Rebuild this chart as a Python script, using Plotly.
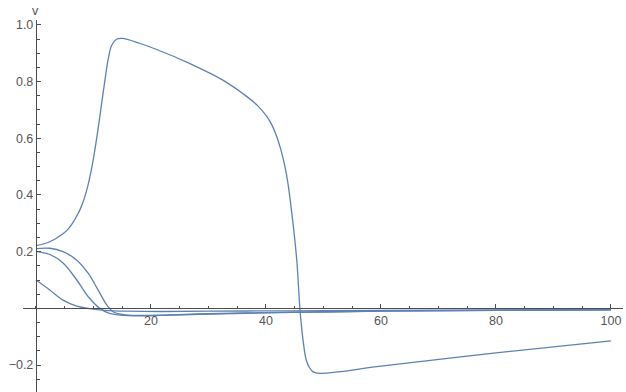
import plotly.graph_objects as go

# Membrane potential v(t) for four starting values
t_fire = [0, 2.4, 4.7, 5.7, 6.5, 7.2, 7.7, 8.5, 9.0, 9.4, 9.8, 10.25, 10.85, 11.4, 12.0,
          12.55, 13.15, 14.0, 15.0, 18.0, 21.0, 26.8, 32.5, 36.8, 38.5, 40.1, 41.0, 41.8,
          42.5, 43.0, 43.5, 43.85, 44.4, 45.0, 45.4, 45.9, 46.45, 47.0, 47.6, 48.2, 49.4,
          60, 80, 100]
v_fire = [0.221, 0.235, 0.263, 0.282, 0.305, 0.330, 0.350, 0.394, 0.430, 0.466, 0.507,
          0.560, 0.640, 0.720, 0.806, 0.878, 0.927, 0.949, 0.952, 0.935, 0.913, 0.863,
          0.805, 0.745, 0.716, 0.678, 0.648, 0.610, 0.566, 0.527, 0.480, 0.437, 0.352,
          0.245, 0.160, 0.0, -0.112, -0.182, -0.210, -0.224, -0.229, -0.204, -0.157, -0.115]

t_sub1 = [0, 2.4, 4.7, 7.1, 9.1, 10.8, 12.3, 13.4, 15.2, 18.0, 22, 30, 40, 50, 60, 80, 100]
v_sub1 = [0.211, 0.212, 0.200, 0.170, 0.123, 0.065, 0.012, -0.012, -0.022, -0.025,
          -0.024, -0.019, -0.015, -0.012, -0.010, -0.007, -0.005]

t_sub2 = [0, 2.4, 4.7, 7.1, 9.1, 11.1, 12.8, 15.2, 18.0, 22, 30, 40, 50, 60, 80, 100]
v_sub2 = [0.201, 0.190, 0.160, 0.100, 0.041, 0.0, -0.018, -0.025, -0.026, -0.025,
          -0.020, -0.016, -0.013, -0.010, -0.007, -0.005]

t_sub3 = [0, 2.4, 4.7, 7.1, 9.4, 12.0, 16.0, 22, 30, 40, 50, 70, 100]
v_sub3 = [0.100, 0.065, 0.029, 0.008, -0.001, -0.007, -0.010, -0.011, -0.010, -0.009,
          -0.008, -0.006, -0.004]

x_ticks = [20, 40, 60, 80, 100]
y_ticks = [-0.2, 0.2, 0.4, 0.6, 0.8, 1.0]
y_tick_text = ["\u22120.2", "0.2", "0.4", "0.6", "0.8", "1.0"]

X_RANGE = [-2.26, 102.1]
Y_RANGE = [-0.295, 1.017]
LINE_COLOR = "rgb(94,129,181)"
AXIS_COLOR = "#4d4d4d"
FONT = dict(family="Liberation Sans, Arial, sans-serif", size=12.5, color="#555555")

fig = go.Figure()
for tt, vv in [(t_fire, v_fire), (t_sub1, v_sub1), (t_sub2, v_sub2), (t_sub3, v_sub3)]:
    fig.add_trace(go.Scatter(x=tt, y=vv, mode="lines",
                             line=dict(color=LINE_COLOR, width=1.3, shape="spline", smoothing=1.0),
                             hoverinfo="skip", showlegend=False))

# axes cross at the origin
x_pos = (0 - Y_RANGE[0]) / (Y_RANGE[1] - Y_RANGE[0])
y_pos = (0 - X_RANGE[0]) / (X_RANGE[1] - X_RANGE[0])

fig.update_layout(
    width=626, height=392,
    margin=dict(l=23, r=3, t=20, b=0),
    paper_bgcolor="white", plot_bgcolor="white",
    font=FONT,
    xaxis=dict(range=X_RANGE, anchor="free", position=x_pos,
               showgrid=False, zeroline=False, showline=True,
               linecolor=AXIS_COLOR, linewidth=1.3,
               tickmode="array", tickvals=x_ticks,
               ticks="inside", ticklen=4, tickwidth=1, tickcolor=AXIS_COLOR,
               minor=dict(dtick=5, tick0=0, ticks="inside", ticklen=2.5,
                          tickwidth=0.8, tickcolor=AXIS_COLOR, showgrid=False),
               tickfont=FONT),
    yaxis=dict(range=Y_RANGE, anchor="free", position=y_pos,
               showgrid=False, zeroline=False, showline=True,
               linecolor=AXIS_COLOR, linewidth=1.3,
               tickmode="array", tickvals=y_ticks, ticktext=y_tick_text,
               ticks="inside", ticklen=4, tickwidth=1, tickcolor=AXIS_COLOR,
               minor=dict(dtick=0.05, tick0=0, ticks="inside", ticklen=2.5,
                          tickwidth=0.8, tickcolor=AXIS_COLOR, showgrid=False),
               tickfont=FONT),
    annotations=[dict(text="v", x=0, y=Y_RANGE[1], xref="x", yref="y",
                      xanchor="center", yanchor="bottom", showarrow=False,
                      font=FONT)],
)

fig.write_html("out.html")
